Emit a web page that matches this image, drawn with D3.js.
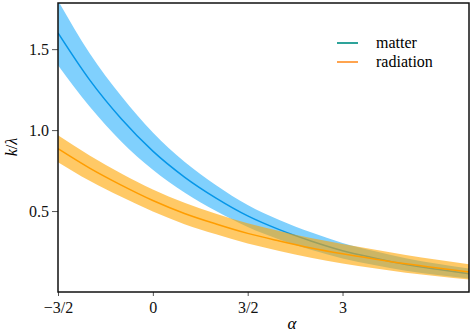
<html>
<head>
<script src="https://cdn.jsdelivr.net/npm/d3@7"></script>
<style>
  body { margin: 0; background: #fff; }
  svg text { font-family: "Liberation Serif", "Times New Roman", Times, "DejaVu Serif", "Noto Serif", serif !important; }
</style>
</head>
<body>
<script>
// values
let alpha      = [-1.5, -1.0, -0.5, 0.0, 0.5, 1.0, 1.5, 2.0, 2.5, 3.0, 3.5, 4.0, 4.5, 5.0];
let matterMid  = [1.60, 1.31, 1.07, 0.87, 0.71, 0.58, 0.47, 0.385, 0.315, 0.255, 0.21, 0.17, 0.14, 0.113];
let matterLo   = [1.40, 1.145, 0.93, 0.755, 0.615, 0.50, 0.402, 0.325, 0.261, 0.207, 0.167, 0.131, 0.105, 0.083];
let matterHi   = [1.80, 1.475, 1.21, 0.985, 0.805, 0.66, 0.538, 0.445, 0.369, 0.303, 0.253, 0.209, 0.175, 0.145];
let radMid     = [0.885, 0.765, 0.66, 0.565, 0.485, 0.42, 0.362, 0.315, 0.272, 0.236, 0.204, 0.174, 0.148, 0.124];
let radLo      = [0.802, 0.687, 0.588, 0.497, 0.419, 0.356, 0.299, 0.253, 0.211, 0.176, 0.146, 0.119, 0.097, 0.077];
let radHi      = [0.968, 0.843, 0.732, 0.633, 0.551, 0.484, 0.425, 0.377, 0.333, 0.296, 0.262, 0.229, 0.199, 0.171];

let xTicks = [-1.5, 0, 1.5, 3];
let xTickLabels = ["\u22123/2", "0", "3/2", "3"];
let yTicks = [0.5, 1.0, 1.5];
let legendNames = ["matter", "radiation"];

let screen = {width: 471, height: 332};
let margin = {top: 3, right: 2, bottom: 40, left: 58};

let xScale = d3.scaleLinear().domain([-1.5, 5])
    .range([margin.left, screen.width - margin.right]);
let yScale = d3.scaleLinear().domain([0, 1.785])
    .range([screen.height - margin.bottom, margin.top]);

let svg = d3.select("body").append("svg")
    .attr("width", screen.width)
    .attr("height", screen.height);

svg.append("clipPath").attr("id", "clip")
    .append("rect")
    .attr("x", margin.left).attr("y", margin.top)
    .attr("width", xScale.range()[1] - margin.left)
    .attr("height", yScale.range()[0] - margin.top);

let plot = svg.append("g").attr("clip-path", "url(#clip)");

let band = function(lo, hi) {
    return d3.area()
        .x(function(d, i) { return xScale(alpha[i]); })
        .y0(function(d, i) { return yScale(lo[i]); })
        .y1(function(d, i) { return yScale(hi[i]); })
        .curve(d3.curveMonotoneX)(alpha);
};
let line = function(vals) {
    return d3.line()
        .x(function(d, i) { return xScale(alpha[i]); })
        .y(function(d, i) { return yScale(vals[i]); })
        .curve(d3.curveMonotoneX)(alpha);
};

// matter
plot.append("path").attr("d", band(matterLo, matterHi))
    .attr("fill", "rgb(128,208,253)");
plot.append("path").attr("d", line(matterMid))
    .attr("fill", "none").attr("stroke", "#0596e8").attr("stroke-width", 1.5);
// radiation
plot.append("path").attr("d", band(radLo, radHi))
    .attr("fill", "orange").attr("fill-opacity", 0.6);
plot.append("path").attr("d", line(radMid))
    .attr("fill", "none").attr("stroke", "#ff9d00").attr("stroke-width", 1.5);

// axes
let xAxis = svg.append("g")
    .attr("transform", "translate(0," + yScale.range()[0] + ")")
    .call(d3.axisBottom(xScale).tickValues(xTicks)
        .tickFormat(function(d, i) { return xTickLabels[i]; })
        .tickSize(4).tickPadding(6));
let yAxis = svg.append("g")
    .attr("transform", "translate(" + margin.left + ",0)")
    .call(d3.axisLeft(yScale).tickValues(yTicks)
        .tickFormat(d3.format(".1f")).tickSize(6).tickPadding(3));

[xAxis, yAxis].forEach(function(a) {
    a.attr("font-family", null);
    a.select(".domain").remove();
    a.selectAll(".tick line").attr("stroke", "#555");
    a.selectAll("text").attr("fill", "#111")
        .style("font-size", "16px");
});

// frame
svg.append("rect")
    .attr("x", margin.left).attr("y", margin.top)
    .attr("width", xScale.range()[1] - margin.left)
    .attr("height", yScale.range()[0] - margin.top)
    .attr("fill", "none").attr("stroke", "#111").attr("stroke-width", 1.5);

// axis labels
svg.append("text")
    .attr("x", 292).attr("y", 329)
    .attr("text-anchor", "middle")
    .style("font-size", "17px").style("font-style", "italic")
    .text("\u03b1");
svg.append("text")
    .attr("transform", "translate(17,147) rotate(-90)")
    .attr("text-anchor", "middle")
    .style("font-size", "16px")
    .html("<tspan font-style='italic'>k</tspan>/<tspan font-style='italic'>\u03bb</tspan>");

// legend
let legendColors = ["#17998f", "#ff9a3c"];
let legend = svg.append("g");
legend.selectAll("line").data(legendNames).enter().append("line")
    .attr("x1", 337).attr("x2", 358)
    .attr("y1", function(d, i) { return 43 + i * 19; })
    .attr("y2", function(d, i) { return 43 + i * 19; })
    .attr("stroke", function(d, i) { return legendColors[i]; })
    .attr("stroke-width", 1.8);
legend.selectAll("text").data(legendNames).enter().append("text")
    .attr("x", 376)
    .attr("y", function(d, i) { return 47.5 + i * 19; })
    .style("font-size", "16px")
    .text(function(d) { return d; });
</script>
</body>
</html>
